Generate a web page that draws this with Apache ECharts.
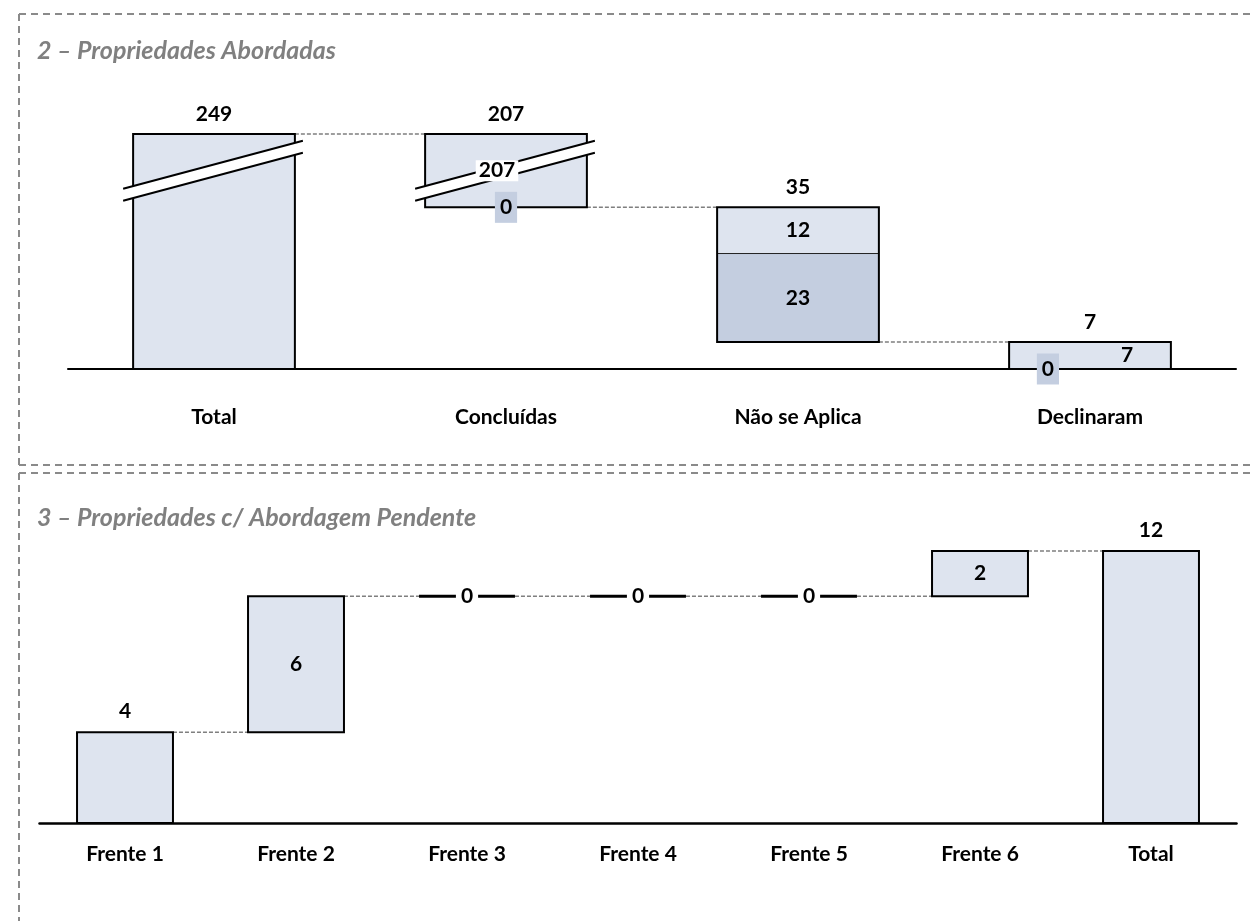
<!DOCTYPE html>
<html>
<head>
<meta charset="utf-8">
<script src="https://cdn.jsdelivr.net/npm/echarts@6/dist/echarts.min.js"></script>
<style>
html, body { margin: 0; padding: 0; background: #fff; }
#main { width: 1253px; height: 921px; }
</style>
</head>
<body>
<div id="main"></div>
<script>
// dados do painel 2 - Propriedades Abordadas
var abordCats = ['Total', 'Concluídas', 'Não se Aplica', 'Declinaram'];
var abordTotal = 249;
var abordClaro = [207, 12, 7];   // parte clara de cada etapa
var abordEscuro = [0, 23, 0];    // parte escura de cada etapa

// dados do painel 3 - Abordagem Pendente
var pendCats = ['Frente 1', 'Frente 2', 'Frente 3', 'Frente 4', 'Frente 5', 'Frente 6', 'Total'];
var pendValores = [4, 6, 0, 0, 0, 2];

// quebra do eixo do painel 2
var quebraIni = 50, quebraFim = 241;

var corClara = '#dee4ef';
var corEscura = '#c4cee0';
var fonte = 'Lato';

var chart = echarts.init(document.getElementById('main'));

// montar a cascata do painel 2
var abBase = [0], abEscuro = [0], abClaro = [abordTotal], abDepois = [abordTotal];
var resto = abordTotal;
for (var i = 0; i < abordClaro.length; i++) {
  resto = resto - abordClaro[i] - abordEscuro[i];
  abBase.push(resto);
  abEscuro.push(abordEscuro[i]);
  abClaro.push(abordClaro[i]);
  abDepois.push(resto);
}

// montar a cascata do painel 3
var pdBase = [], pdValor = [], pdDepois = [];
var soma = 0;
for (var j = 0; j < pendValores.length; j++) {
  pdBase.push(soma);
  pdValor.push(pendValores[j]);
  soma += pendValores[j];
  pdDepois.push(soma);
}
pdBase.push(0); pdValor.push(soma); pdDepois.push(soma);

function rotulo(texto, x, y, fundo, pad) {
  return {
    type: 'text', z2: 30,
    style: {
      text: texto, x: x, y: y, align: 'center', verticalAlign: 'middle',
      font: 'bold 21px ' + fonte, fill: '#000',
      backgroundColor: fundo || null,
      padding: fundo ? (pad || [4, 5]) : 0
    }
  };
}

function tracejado(x1, x2, y) {
  return { type: 'line', z2: 3, shape: { x1: x1, y1: y, x2: x2, y2: y },
    style: { stroke: '#7f7f7f', lineWidth: 1.5, lineDash: [4, 2] } };
}

// desenho das molduras, quebra, ligacoes e rotulos do painel 2
function desenhaAbord(params, api) {
  var i = api.value(0);
  var larg = api.size([1, 0])[0] * 0.554;
  var cx = api.coord([i, 0])[0];
  var xE = cx - larg / 2, xD = cx + larg / 2;
  var topoVal = abBase[i] + abEscuro[i] + abClaro[i];
  var yBase = api.coord([i, abBase[i]])[1];
  var yMeio = api.coord([i, abBase[i] + abEscuro[i]])[1];
  var yTopo = api.coord([i, topoVal])[1];
  var filhos = [];

  filhos.push({ type: 'rect', z2: 5, shape: { x: xE, y: yTopo, width: larg, height: yBase - yTopo },
    style: { fill: 'none', stroke: '#000', lineWidth: 2 } });
  if (abEscuro[i] > 0) {
    filhos.push({ type: 'line', z2: 4, shape: { x1: xE, y1: yMeio, x2: xD, y2: yMeio },
      style: { stroke: '#222', lineWidth: 1 } });
  }

  // quebra do eixo
  var quebrou = abBase[i] < quebraIni && topoVal > quebraFim;
  if (quebrou) {
    var yq = (api.coord([i, quebraIni])[1] + api.coord([i, quebraFim])[1]) / 2;
    var x0 = xE - 10, x1 = xD + 8, s = 24, e = 6;
    filhos.push({ type: 'polygon', z2: 8,
      shape: { points: [[x0, yq + s - e], [x1, yq - s - e], [x1, yq - s + e], [x0, yq + s + e]] },
      style: { fill: '#fff', stroke: null } });
    filhos.push({ type: 'line', z2: 9, shape: { x1: x0, y1: yq + s - e, x2: x1, y2: yq - s - e },
      style: { stroke: '#000', lineWidth: 2 } });
    filhos.push({ type: 'line', z2: 9, shape: { x1: x0, y1: yq + s + e, x2: x1, y2: yq - s + e },
      style: { stroke: '#000', lineWidth: 2 } });
  }

  // ligacao com a proxima barra
  if (i < abordCats.length - 1) {
    var yL = api.coord([i, abDepois[i]])[1];
    var xProx = api.coord([i + 1, 0])[0] - larg / 2;
    filhos.push(tracejado(xD, xProx, yL));
  }

  // rotulos
  filhos.push(rotulo(String(abEscuro[i] + abClaro[i]), cx, yTopo - 20));
  if (i > 0) {
    var curto = (yBase - yTopo) < 40;
    var dxE = 0, dxC = 0;
    if (abEscuro[i] === 0 && curto) { dxE = -larg * 0.26; dxC = larg * 0.23; }
    if (abEscuro[i] === 0) {
      filhos.push(rotulo('0', cx + dxE, yBase, corEscura, [5, 5]));
    } else {
      filhos.push(rotulo(String(abEscuro[i]), cx, (yBase + yMeio) / 2));
    }
    if (quebrou) {
      filhos.push(rotulo(String(abClaro[i]), cx - 9, (yMeio + yTopo) / 2, '#fff', [0, 3]));
    } else {
      filhos.push(rotulo(String(abClaro[i]), cx + dxC, (yMeio + yTopo) / 2));
    }
  }
  return { type: 'group', children: filhos };
}

// desenho do painel 3
function desenhaPend(params, api) {
  var i = api.value(0);
  var larg = api.size([1, 0])[0] * 0.561;
  var cx = api.coord([i, 0])[0];
  var xE = cx - larg / 2, xD = cx + larg / 2;
  var yBase = api.coord([i, pdBase[i]])[1];
  var yTopo = api.coord([i, pdBase[i] + pdValor[i]])[1];
  var ultimo = pendCats.length - 1;
  var filhos = [];

  if (pdValor[i] === 0) {
    filhos.push({ type: 'line', z2: 6, shape: { x1: xE, y1: yBase, x2: xD, y2: yBase },
      style: { stroke: '#000', lineWidth: 3 } });
    filhos.push(rotulo('0', cx, yBase, '#fff', [0, 5]));
  } else {
    filhos.push({ type: 'rect', z2: 5, shape: { x: xE, y: yTopo, width: larg, height: yBase - yTopo },
      style: { fill: 'none', stroke: '#000', lineWidth: 2 } });
    if (i === 0 || i === ultimo) {
      filhos.push(rotulo(String(pdValor[i]), cx, yTopo - 21));
    } else {
      filhos.push(rotulo(String(pdValor[i]), cx, (yBase + yTopo) / 2));
    }
  }
  if (i < ultimo) {
    var yL = api.coord([i, pdDepois[i]])[1];
    var xProx = api.coord([i + 1, 0])[0] - larg / 2;
    filhos.push(tracejado(xD, xProx, yL));
  }
  return { type: 'group', children: filhos };
}

var borda = { stroke: '#8a8a8a', lineWidth: 2, lineDash: [7, 5] };
var eixoLabel = { fontFamily: fonte, fontWeight: 'bold', fontSize: 21, color: '#000' };
var tituloStyle = { fontFamily: fonte, fontStyle: 'italic', fontWeight: 'bold', fontSize: 25, color: '#808080' };

var option = {
  animation: false,
  backgroundColor: '#fff',
  title: [
    { text: '2 – Propriedades Abordadas', left: 32, top: 33, textStyle: tituloStyle },
    { text: '3 – Propriedades c/ Abordagem Pendente', left: 32, top: 500, textStyle: tituloStyle }
  ],
  graphic: [
    { type: 'line', silent: true, shape: { x1: 19, y1: 14, x2: 1253, y2: 14 }, style: borda },
    { type: 'line', silent: true, shape: { x1: 19, y1: 14, x2: 19, y2: 465 }, style: borda },
    { type: 'line', silent: true, shape: { x1: 19, y1: 465, x2: 1253, y2: 465 }, style: borda },
    { type: 'line', silent: true, shape: { x1: 19, y1: 473, x2: 1253, y2: 473 }, style: borda },
    { type: 'line', silent: true, shape: { x1: 19, y1: 473, x2: 19, y2: 921 }, style: borda }
  ],
  grid: [
    { left: 68, right: 17, top: 134, bottom: 552 },
    { left: 39.5, right: 16.5, top: 551, bottom: 98 }
  ],
  xAxis: [
    { type: 'category', gridIndex: 0, data: abordCats,
      axisLine: { lineStyle: { color: '#000', width: 2 } },
      axisTick: { show: false }, axisLabel: Object.assign({ margin: 38 }, eixoLabel) },
    { type: 'category', gridIndex: 1, data: pendCats,
      axisLine: { lineStyle: { color: '#000', width: 2.5 } },
      axisTick: { show: false }, axisLabel: Object.assign({ margin: 21 }, eixoLabel) }
  ],
  yAxis: [
    { type: 'value', gridIndex: 0, min: 0, max: abordTotal, show: false,
      breaks: [{ start: quebraIni, end: quebraFim, gap: '5%' }],
      breakArea: { show: false } },
    { type: 'value', gridIndex: 1, min: 0, max: soma, show: false }
  ],
  series: [
    { type: 'bar', name: 'base', xAxisIndex: 0, yAxisIndex: 0, stack: 'a', barWidth: '55.4%', silent: true,
      itemStyle: { color: 'transparent' }, data: abBase },
    { type: 'bar', name: 'escuro', xAxisIndex: 0, yAxisIndex: 0, stack: 'a', barWidth: '55.4%', silent: true,
      itemStyle: { color: corEscura }, data: abEscuro },
    { type: 'bar', name: 'claro', xAxisIndex: 0, yAxisIndex: 0, stack: 'a', barWidth: '55.4%', silent: true,
      itemStyle: { color: corClara }, data: abClaro },
    { type: 'custom', xAxisIndex: 0, yAxisIndex: 0, silent: true, z: 5,
      renderItem: desenhaAbord, encode: { x: 0, y: 1 },
      data: abordCats.map(function (c, k) { return [k, abBase[k] + abEscuro[k] + abClaro[k]]; }) },

    { type: 'bar', name: 'base2', xAxisIndex: 1, yAxisIndex: 1, stack: 'b', barWidth: '56.1%', silent: true,
      itemStyle: { color: 'transparent' }, data: pdBase },
    { type: 'bar', name: 'valor', xAxisIndex: 1, yAxisIndex: 1, stack: 'b', barWidth: '56.1%', silent: true,
      itemStyle: { color: corClara }, data: pdValor },
    { type: 'custom', xAxisIndex: 1, yAxisIndex: 1, silent: true, z: 5,
      renderItem: desenhaPend, encode: { x: 0, y: 1 },
      data: pendCats.map(function (c, k) { return [k, pdBase[k] + pdValor[k]]; }) }
  ]
};

chart.setOption(option);
</script>
</body>
</html>
